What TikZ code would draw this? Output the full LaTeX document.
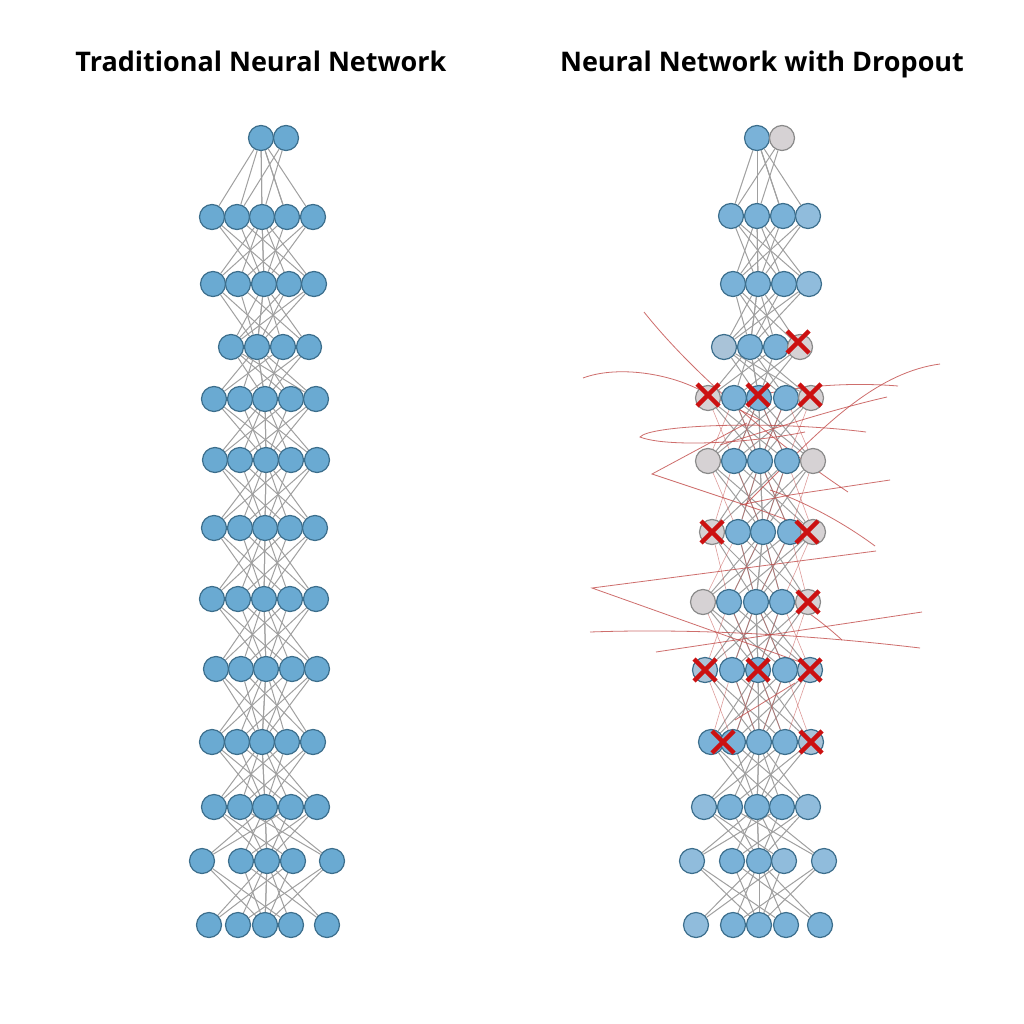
\documentclass[tikz,border=0pt]{standalone}
\usepackage{fontspec}
\setmainfont{Open Sans}
\usetikzlibrary{backgrounds,calc}
\definecolor{nblue}{HTML}{6AAAD2}
\definecolor{nbluer}{HTML}{7AB2D8}
\definecolor{nbluel}{HTML}{90BCDC}
\definecolor{nstroke}{HTML}{3C6E8C}
\definecolor{ngray}{HTML}{D6D2D4}
\definecolor{ngraystroke}{HTML}{8A8A8A}
\definecolor{ngb}{HTML}{A9C3D8}
\definecolor{edgegray}{HTML}{A0A0A0}
\definecolor{xred}{HTML}{CC1111}
\definecolor{scrib}{HTML}{C24A48}
\newcommand\netlink[7]{%
  \foreach \a in {1,...,#4} {\draw[edge] (#1#2-\a) -- (#1#3-#7);}
  \foreach \b in {1,...,#5} {\draw[edge] (#1#2-#6) -- (#1#3-\b);}
  \pgfmathtruncatemacro\nlA{min(#7+1,#5)}%
  \pgfmathtruncatemacro\nlB{max(#7-1,1)}%
  \draw[edge] (#1#2-1) -- (#1#3-\nlA);
  \draw[edge] (#1#2-#4) -- (#1#3-\nlB);
  \ifnum#4>3
    \pgfmathtruncatemacro\nlC{#6-1}%
    \pgfmathtruncatemacro\nlD{#6+1}%
    \draw[edge] (#1#2-\nlC) -- (#1#3-#5);
    \draw[edge] (#1#2-\nlD) -- (#1#3-1);
  \fi}
\newcommand\redlink[2]{%
  \foreach \a in {1,...,4} {\pgfmathtruncatemacro\nlE{\a+1}\draw[redmesh] (R#1-\a) -- (R#2-\nlE);}
  \foreach \a in {2,...,5} {\pgfmathtruncatemacro\nlF{\a-1}\draw[redmesh] (R#1-\a) -- (R#2-\nlF);}}
\begin{document}
\begin{tikzpicture}[x=1pt,y=-1pt,
  bn/.style={circle,draw=nstroke,fill=nblue,line width=1.2pt,minimum size=25pt,inner sep=0pt},
  rb/.style={bn,fill=nbluer},
  rl/.style={bn,fill=nbluel},
  gb/.style={bn,fill=ngb},
  gn/.style={bn,draw=ngraystroke,fill=ngray},
  edge/.style={draw=edgegray,line width=1pt},
  redmesh/.style={draw=scrib,line width=0.6pt,opacity=0.55},
  scribble/.style={draw=scrib,line width=0.8pt,opacity=0.8},
  xline/.style={draw=xred,line width=4.5pt},
  xcross/.pic={\draw[xline] (-11,-11) -- (11,11) (-11,11) -- (11,-11);},
  ttl/.style={font=\fontsize{27}{32}\selectfont\bfseries,text=black,inner sep=0pt,anchor=base}]
\useasboundingbox (0,0) rectangle (1024,1024);

\node[ttl] (t1) at (261,72) {Traditional Neural Network};
\node[ttl] (t2) at (762,72) {Neural Network with Dropout};

% ---------------- left network ----------------
\foreach \x [count=\j] in {261,286} \node[bn] (L0-\j) at (\x,138) {};
\foreach \x [count=\j] in {212,237,262,287,313} \node[bn] (L1-\j) at (\x,217) {};
\foreach \x [count=\j] in {213,238,264,289,314} \node[bn] (L2-\j) at (\x,284) {};
\foreach \x [count=\j] in {231,257,283,309} \node[bn] (L3-\j) at (\x,347) {};
\foreach \x [count=\j] in {214,240,265,291,316} \node[bn] (L4-\j) at (\x,399) {};
\foreach \x [count=\j] in {215,240,266,291,317} \node[bn] (L5-\j) at (\x,460) {};
\foreach \x [count=\j] in {214,240,265,290,315} \node[bn] (L6-\j) at (\x,528) {};
\foreach \x [count=\j] in {212,238,264,290,316} \node[bn] (L7-\j) at (\x,599) {};
\foreach \x [count=\j] in {216,241,266,292,317} \node[bn] (L8-\j) at (\x,669) {};
\foreach \x [count=\j] in {212,237,262,287,313} \node[bn] (L9-\j) at (\x,742) {};
\foreach \x [count=\j] in {214,240,265,291,317} \node[bn] (L10-\j) at (\x,807) {};
\foreach \x [count=\j] in {202,241,267,293,332} \node[bn] (L11-\j) at (\x,861) {};
\foreach \x [count=\j] in {209,238,265,291,327} \node[bn] (L12-\j) at (\x,925) {};

% ---------------- right network ----------------
\foreach \x/\s [count=\j] in {757/rb,782/gn} \node[\s] (R0-\j) at (\x,138) {};
\foreach \x/\s [count=\j] in {731/rb,757/rb,783/rb,808/rl} \node[\s] (R1-\j) at (\x,216) {};
\foreach \x/\s [count=\j] in {733/rb,758/rb,784/rb,809/rl} \node[\s] (R2-\j) at (\x,284) {};
\foreach \x/\s [count=\j] in {724/gb,750/rb,776/rb,800/gn} \node[\s] (R3-\j) at (\x,347) {};
\foreach \x/\s [count=\j] in {708/gn,734/rb,759/rb,786/rb,811/gn} \node[\s] (R4-\j) at (\x,398) {};
\foreach \x/\s [count=\j] in {708/gn,734/rb,760/rb,787/rb,813/gn} \node[\s] (R5-\j) at (\x,461) {};
\foreach \x/\s [count=\j] in {712/gn,738/rb,763/rb,790/rb,813/gn} \node[\s] (R6-\j) at (\x,532) {};
\foreach \x/\s [count=\j] in {703/gn,729/rb,756/rb,782/rb,808/gn} \node[\s] (R7-\j) at (\x,602) {};
\foreach \x/\s [count=\j] in {705/gb,732/rb,758/rb,785/rb,810/gb} \node[\s] (R8-\j) at (\x,670) {};
\foreach \x/\s [count=\j] in {711/rb,733/rb,759/rb,785/rb,811/gb} \node[\s] (R9-\j) at (\x,742) {};
\foreach \x/\s [count=\j] in {704/rl,730/rb,757/rb,782/rb,808/rl} \node[\s] (R10-\j) at (\x,807) {};
\foreach \x/\s [count=\j] in {692/rl,732/rb,759/rb,784/rl,824/rl} \node[\s] (R11-\j) at (\x,861) {};
\foreach \x/\s [count=\j] in {696/rl,733/rb,759/rb,786/rb,820/rb} \node[\s] (R12-\j) at (\x,925) {};

\begin{pgfonlayer}{background}
  \fill[white] (0,0) rectangle (1024,1024);
  % left edges
  \netlink{L}{0}{1}{2}{5}{1}{3}
  \netlink{L}{1}{2}{5}{5}{3}{3}
  \netlink{L}{2}{3}{5}{4}{3}{2}
  \netlink{L}{3}{4}{4}{5}{2}{3}
  \foreach \i in {4,...,11} {\pgfmathtruncatemacro\nx{\i+1}\netlink{L}{\i}{\nx}{5}{5}{3}{3}}
  % right edges
  \netlink{R}{0}{1}{2}{4}{1}{2}
  \netlink{R}{1}{2}{4}{4}{2}{2}
  \netlink{R}{2}{3}{4}{4}{2}{2}
  \netlink{R}{3}{4}{4}{5}{2}{3}
  \foreach \i in {4,...,11} {\pgfmathtruncatemacro\nx{\i+1}\netlink{R}{\i}{\nx}{5}{5}{3}{3}}
  % red mesh
  \redlink{4}{5}
  \redlink{5}{6}
  \redlink{6}{7}
  \redlink{7}{8}
  \redlink{8}{9}
  % red scribbles
  \draw[scribble] (644,312) .. controls (690,370) and (770,440) .. (848,492);
  \draw[scribble] (583,378) .. controls (615,366) and (665,372) .. (700,390) -- (760,420);
  \draw[scribble] (866,432) .. controls (770,420) and (650,425) .. (640,437) .. controls (665,447) and (745,444) .. (805,432);
  \draw[scribble] (940,364) .. controls (880,372) and (830,420) .. (780,470) -- (745,505);
  \draw[scribble] (898,386) .. controls (850,382) and (800,386) .. (760,395);
  \draw[scribble] (887,397) .. controls (830,410) and (770,430) .. (720,445);
  \draw[scribble] (747,423) -- (652,474) -- (760,510) -- (820,532);
  \draw[scribble] (890,480) -- (790,495) -- (740,505);
  \draw[scribble] (875,546) .. controls (840,520) and (800,500) .. (770,490);
  \draw[scribble] (876,551) -- (592,588) -- (800,662);
  \draw[scribble] (590,632) .. controls (700,628) and (820,636) .. (920,648);
  \draw[scribble] (656,652) -- (922,612);
  \draw[scribble] (842,640) .. controls (820,620) and (800,606) .. (780,596);
  \draw[scribble] (735,720) -- (795,683);
\end{pgfonlayer}

% dropout crosses
\pic at ([shift={(-2,-5)}]R3-4) {xcross};
\pic at ([shift={(0,-3)}]R4-1) {xcross};
\pic at ([shift={(-1,-3)}]R4-3) {xcross};
\pic at ([shift={(-1,-3)}]R4-5) {xcross};
\pic at (R6-1) {xcross};
\pic at ([shift={(-6,0)}]R6-5) {xcross};
\pic at (R7-5) {xcross};
\pic at (R8-1) {xcross};
\pic at (R8-3) {xcross};
\pic at (R8-5) {xcross};
\pic at ([shift={(12,0)}]R9-1) {xcross};
\pic at (R9-5) {xcross};
\end{tikzpicture}
\end{document}
